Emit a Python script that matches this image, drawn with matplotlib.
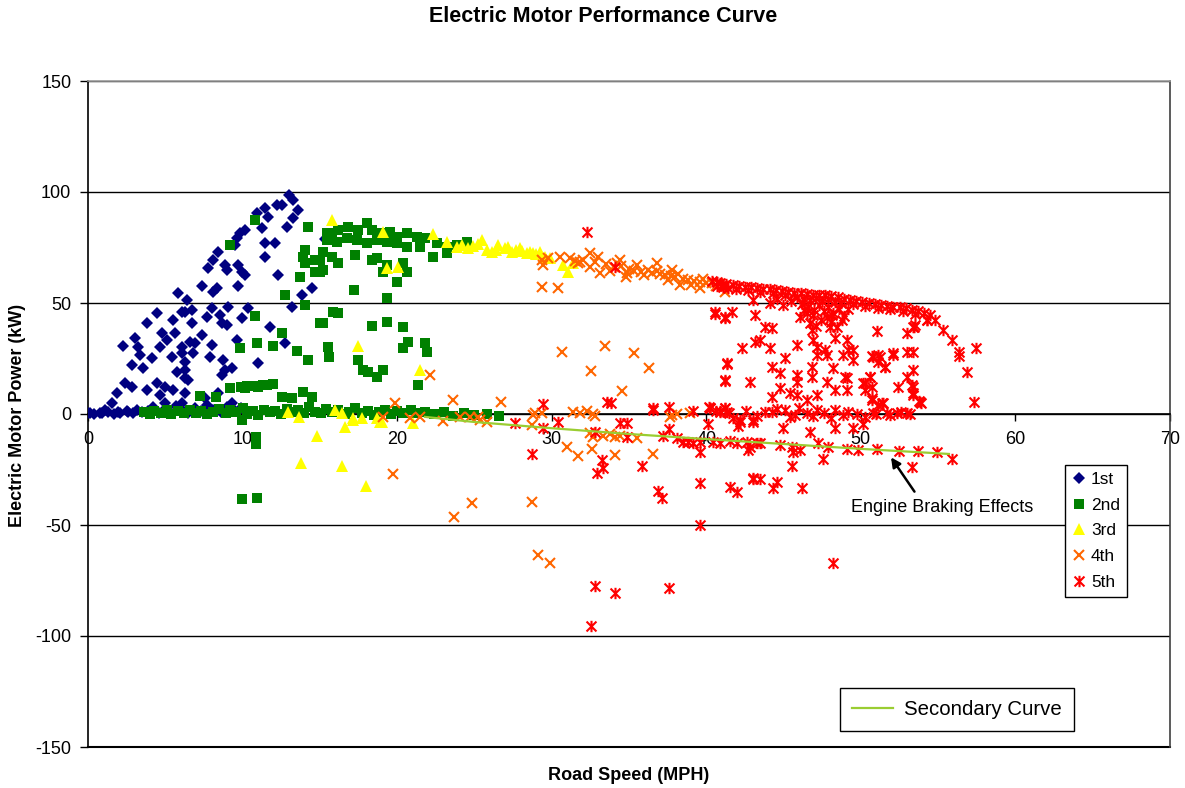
import matplotlib
matplotlib.use("Agg")
import matplotlib.pyplot as plt
from matplotlib.path import Path

plt.rcParams['font.family'] = ['Liberation Sans', 'DejaVu Sans']
plt.rcParams['axes.unicode_minus'] = False

# (road speed mph, motor power kW) samples, one list per gear
gear1 = [
    (13.0, 98.6), (13.28, 96.4), (12.21, 94.1), (12.53, 94.1), (11.45, 92.6), (13.6, 91.9),
    (13.28, 88.1), (11.63, 88.9), (10.91, 90.4), (12.86, 84.4), (11.24, 83.6), (10.16, 82.9),
    (9.83, 81.4), (9.62, 79.1), (11.45, 76.9), (12.1, 76.9), (9.51, 76.1), (8.43, 73.1),
    (8.11, 69.4), (7.78, 65.6), (8.86, 67.1), (9.73, 67.1), (8.97, 64.9), (9.94, 64.1),
    (10.16, 62.6), (12.31, 62.6), (11.45, 70.9), (15.33, 78.7), (7.36, 57.7), (8.33, 56.6),
    (8.11, 55.1), (9.73, 57.7), (14.47, 56.6), (13.83, 53.6), (13.18, 48.3), (5.84, 54.4),
    (6.39, 51.4), (6.06, 46.1), (6.27, 46.1), (6.71, 46.8), (8.0, 47.6), (9.08, 48.3),
    (10.37, 47.6), (7.68, 43.8), (8.54, 44.6), (8.65, 40.8), (8.97, 40.1), (9.94, 43.1),
    (11.77, 39.3), (4.44, 45.4), (5.52, 42.3), (3.8, 40.8), (6.71, 41.1), (4.77, 36.3),
    (5.63, 36.3), (7.36, 35.6), (3.04, 34.1), (2.29, 30.6), (3.25, 30.3), (4.66, 30.3),
    (5.09, 33.3), (6.06, 30.3), (6.6, 32.6), (6.92, 31.8), (8.0, 31.1), (9.62, 33.3),
    (12.74, 31.8), (3.36, 26.6), (4.12, 25.1), (5.42, 25.8), (6.06, 27.3), (6.27, 23.6),
    (6.81, 27.3), (7.89, 25.8), (8.75, 24.3), (2.83, 22.1), (3.58, 20.6), (5.74, 19.1),
    (6.27, 19.8), (6.27, 16.1), (6.49, 15.3), (8.86, 19.8), (9.3, 20.6), (8.65, 17.6),
    (11.02, 22.8), (2.39, 13.8), (2.83, 12.3), (1.86, 9.3), (3.8, 10.8), (4.44, 13.8),
    (4.98, 12.3), (5.52, 10.8), (6.27, 9.3), (8.43, 9.3), (7.57, 7.1), (1.53, 4.8),
    (1.1, 1.8), (0.13, 0.6), (0.78, 0.3), (1.96, 1.0), (2.61, 1.0), (4.66, 8.6),
    (4.98, 4.8), (6.06, 4.8), (9.3, 4.8),
    (0.0, 0.5), (0.4, 0.0), (0.9, 0.3), (1.3, 0.8), (1.7, 0.2), (2.1, 0.6), (2.5, 1.2),
    (2.9, 0.3), (3.2, 2.0), (3.5, 0.8), (3.9, 1.5), (4.2, 3.2), (4.6, 0.6), (5.0, 2.2),
    (5.3, 1.0), (5.7, 3.5), (6.1, 1.8), (6.5, 0.5), (6.9, 2.8), (7.3, 1.2), (7.7, 4.0),
    (8.1, 2.0), (8.6, 1.0), (9.0, 3.0), (9.5, 1.5), (9.9, 2.5),
]

gear2 = [
    (10.8, 87.4), (9.19, 76.1), (14.25, 84.4), (15.44, 81.4), (14.04, 73.9), (13.93, 70.9),
    (14.04, 67.9), (15.01, 69.4), (14.69, 64.1), (13.72, 61.8), (12.74, 53.6), (14.04, 49.1),
    (10.8, 44.1), (15.01, 40.8), (12.53, 36.3), (9.83, 29.6), (10.91, 31.8), (11.99, 30.6),
    (13.5, 28.5), (14.25, 24.3), (9.19, 11.6), (7.25, 8.1), (8.26, 7.8), (10.16, 11.6),
    (11.02, 12.0), (11.99, 13.5), (12.53, 7.8), (13.18, 7.1), (13.93, 10.1), (14.47, 7.8),
    (9.94, -2.7), (9.9, 12.2), (10.3, 12.5), (10.6, 12.6), (11.0, 12.8), (11.3, 13.0),
    (11.6, 13.2), (12.0, 13.5),
    (15.77, 81.4), (16.18, 82.9), (16.82, 84.4), (17.49, 82.9), (18.03, 85.9), (18.35, 82.9),
    (18.89, 81.4), (19.54, 82.1), (19.97, 79.9), (20.62, 81.4), (21.26, 79.9), (21.8, 79.1),
    (22.56, 76.9), (23.2, 75.4), (23.85, 76.1), (24.5, 77.6), (15.44, 78.4), (16.09, 77.6),
    (16.73, 79.1), (17.38, 78.4), (18.03, 76.9), (18.68, 78.4), (19.32, 77.6), (19.97, 76.9),
    (20.62, 75.4), (21.48, 75.4), (22.34, 70.9), (23.2, 72.4), (15.22, 73.1), (15.77, 70.9),
    (16.19, 67.9), (15.22, 64.9), (14.68, 69.4), (15.01, 64.1), (17.27, 71.6), (18.35, 69.4),
    (18.68, 70.1), (19.1, 63.8), (19.32, 67.1), (20.4, 67.9), (20.62, 64.1), (19.97, 59.3),
    (17.2, 55.9), (19.32, 52.1), (15.87, 46.1), (16.19, 45.4), (15.18, 40.8), (18.35, 39.6),
    (19.32, 41.6), (20.4, 39.3), (15.55, 30.3), (15.61, 25.8), (17.49, 24.3), (17.81, 19.8),
    (18.13, 19.1), (18.68, 16.8), (19.1, 19.8), (20.4, 29.6), (20.72, 32.6), (21.8, 31.8),
    (21.91, 28.1), (21.37, 13.1),
    (9.94, -38.4), (10.91, -38.0), (10.9, -10.5), (10.9, -13.5),
    (3.6, 0.8), (4.0, 0.2), (4.3, 1.5), (4.7, 0.5), (5.1, 1.8), (5.4, 0.0), (5.8, 1.2),
    (6.2, 0.4), (6.6, 2.0), (7.0, 0.6), (7.3, 1.4), (7.7, -0.2), (8.1, 1.0), (8.5, 2.2),
    (8.9, 0.3), (9.2, 1.6), (9.6, 0.8), (10.0, 2.5), (10.3, 0.2), (10.7, 1.3), (11.0, -0.5),
    (11.4, 2.0), (11.8, 0.7), (12.1, 1.5), (12.5, 0.0), (12.9, 2.4), (13.2, 0.9), (13.6, 1.7),
    (14.0, 0.3), (14.3, 3.0), (14.7, 1.1), (15.1, 0.4), (15.4, 2.2), (15.8, 0.8), (16.2, 1.6),
    (16.6, 0.1), (16.9, 1.0), (17.3, 2.5), (17.7, 0.5), (18.1, 1.4), (18.5, -0.3), (18.8, 0.9),
    (19.2, 1.9), (19.6, 0.2), (20.0, 1.2), (20.4, 0.6), (20.9, 1.8), (21.3, 0.3), (21.8, 1.0),
    (22.4, 0.0), (23.0, 0.8), (23.6, -0.8), (24.3, 0.5), (25.0, -0.5), (25.8, 0.2), (26.6, -1.0),
]

gear3 = [
    (15.77, 87.4), (19.1, 82.1), (22.3, 81.1), (23.2, 77.6), (23.85, 75.4), (24.18, 76.1),
    (24.6, 74.6), (25.47, 78.4), (25.79, 73.9), (19.32, 65.6), (20.08, 66.1), (17.49, 30.6),
    (21.48, 19.8), (12.96, 1.0), (13.67, -1.2), (15.98, 1.8), (16.41, 0.3), (16.62, -5.7),
    (17.16, -1.95), (17.7, -1.95), (18.68, -1.95), (18.9, -3.5), (14.8, -9.9), (13.78, -21.9),
    (16.41, -23.4), (17.99, -32.4), (17.17, -2.7), (19.0, -3.4), (21.0, -3.9),
    (26.12, 73.1), (26.55, 76.1), (26.98, 74.6), (27.41, 73.1), (27.95, 74.6), (28.38, 72.4),
    (28.81, 72.4), (29.24, 73.1), (29.56, 70.9), (29.88, 70.1), (30.75, 67.1), (31.07, 64.1),
    (31.4, 67.9), (24.9, 75.5), (25.2, 76.8), (26.4, 74.0), (27.2, 75.2), (27.7, 73.8),
    (28.1, 73.5), (28.6, 73.0), (29.0, 72.0),
]

gear4 = [
    (29.35, 69.4), (29.46, 67.1), (29.78, 70.1), (30.54, 70.9), (31.18, 70.1), (31.72, 67.9),
    (31.83, 68.6), (32.48, 72.4), (32.8, 68.6), (33.12, 63.4), (34.42, 69.4), (34.85, 63.4),
    (36.79, 67.9), (37.76, 64.9), (38.3, 58.1), (39.59, 56.6), (41.21, 55.1), (29.35, 57.3),
    (30.43, 56.6), (33.5, 67.5), (34.0, 66.0), (34.5, 66.5), (35.0, 65.5), (35.3, 64.5),
    (35.8, 64.0), (36.2, 65.0), (36.5, 63.5), (37.0, 63.0), (37.3, 62.5), (37.7, 62.0),
    (38.0, 61.5), (38.5, 61.0), (38.8, 60.5), (39.2, 60.0), (39.6, 59.5), (40.0, 59.0),
    (40.4, 58.8), (40.8, 58.5), (33.8, 64.5), (34.2, 68.0), (35.5, 67.0), (36.0, 62.5),
    (36.8, 64.5), (37.5, 60.5), (38.2, 63.0), (39.0, 58.0), (39.8, 61.0), (40.6, 57.5),
    (32.0, 69.5), (32.5, 66.0), (33.0, 70.5), (31.5, 69.0), (34.8, 61.5),
    (30.65, 27.8), (32.54, 19.5), (33.45, 30.8), (35.32, 27.6), (36.31, 20.9), (34.53, 10.5),
    (26.72, 5.3), (28.92, 0.3), (29.35, 0.6), (31.4, 1.1), (31.83, 0.6), (32.26, 1.4),
    (32.7, -0.1), (37.65, -1.5), (38.08, 0.0), (38.95, 0.3), (22.13, 17.6), (23.64, 6.3),
    (19.86, 5.1), (19.75, -27.0), (24.82, -40.2), (23.68, -46.3), (19.1, -1.2), (20.83, -1.95),
    (21.48, -1.2), (22.99, -3.0), (24.07, -1.2), (24.71, -1.2), (25.25, -1.5), (25.79, -3.5),
    (28.81, -0.45), (25.36, -2.7), (32.8, -0.9), (28.7, -5.0), (30.97, -14.7), (31.72, -18.9),
    (32.59, -15.9), (32.7, -10.2), (33.34, -9.9), (34.09, -10.2), (34.42, -9.9), (35.5, -11.0),
    (34.09, -18.5), (36.57, -18.0), (37.76, -0.45), (28.7, -39.5), (29.13, -63.5),
    (29.89, -67.3), (32.5, -8.5), (33.8, -9.0),
]

gear5 = [
    (32.3, 82.1), (34.09, 66.4), (40.67, 59.6), (41.0, 58.1), (41.43, 56.6), (40.56, 45.0),
    (41.21, 43.1), (41.32, 22.5), (41.21, 15.0), (29.41, 4.5), (33.56, 5.6), (33.81, 5.1),
    (36.57, 1.8), (37.61, 3.0), (39.15, 1.2), (40.19, 3.0), (40.88, 1.2),
    (27.62, -3.9), (29.46, -6.5), (30.43, -3.5), (28.7, -18.0), (32.8, -8.0), (33.23, -20.7),
    (33.34, -24.5), (32.91, -26.7), (34.42, -3.9), (34.85, -4.2), (34.85, -10.2),
    (35.82, -23.4), (36.57, 2.6), (37.22, -9.9), (37.61, -6.9), (38.08, -11.0), (38.84, -12.5),
    (39.15, -13.2), (38.52, -12.5), (39.59, -17.0), (40.13, -4.5), (40.23, 2.6), (40.89, 1.0),
    (41.32, 1.0), (41.2, 2.5), (41.75, -1.95), (42.18, -3.5), (42.07, -5.6), (43.04, -3.5),
    (39.59, -12.5), (40.45, -12.5), (40.89, -13.2), (41.53, -12.0), (41.97, -13.2),
    (42.61, -12.5), (42.72, -16.2), (43.26, -13.2), (36.9, -34.5), (37.11, -38.0),
    (39.59, -31.2), (39.59, -50.0), (41.53, -33.0), (41.97, -35.0), (43.04, -29.4),
    (32.8, -77.5), (34.09, -80.5), (37.61, -78.5), (32.54, -95.5),
    (43.48, -13.2), (44.77, -14.0), (45.53, -14.7), (45.64, -17.0), (46.06, -16.2),
    (47.25, -13.2), (47.9, -14.7), (49.08, -15.9), (49.84, -16.2), (51.02, -15.9),
    (52.49, -16.5), (53.72, -16.5), (54.91, -17.0), (55.88, -20.4), (53.29, -23.7),
    (47.57, -20.4), (45.53, -23.4), (43.04, -29.0), (43.48, -29.4), (44.56, -30.5),
    (44.34, -33.5), (46.17, -33.5), (48.22, -67.0), (42.83, -14.7),
    (40.56, 46.1), (41.21, 43.8), (41.64, 46.1), (43.15, 44.6), (43.8, 39.3), (44.23, 38.6),
    (45.85, 31.1), (44.12, 29.6), (42.29, 29.6), (43.15, 32.6), (43.48, 33.3), (45.09, 25.1),
    (41.32, 22.8), (44.23, 21.3), (44.77, 18.3), (45.85, 17.6), (45.85, 14.5), (46.82, 21.3),
    (46.82, 16.8), (47.14, 26.6), (47.79, 26.6), (48.22, 20.6), (48.87, 26.6), (49.08, 16.1),
    (49.51, 28.8), (49.51, 24.3), (50.81, 25.8), (51.24, 25.8), (51.56, 21.3), (51.02, 37.5),
    (52.1, 26.6), (52.96, 28.1), (52.96, 36.3), (53.39, 39.3), (53.39, 19.8), (52.96, 16.8),
    (52.42, 12.3), (53.39, 12.3), (53.39, 8.6), (53.83, 5.5), (41.21, 15.3), (42.83, 14.5),
    (44.77, 11.6), (45.42, 9.3), (44.23, 7.8), (45.85, 8.6), (46.5, 6.3), (47.14, 8.6),
    (47.79, 14.5), (48.33, 10.8), (48.97, 16.8), (49.08, 10.8), (50.16, 13.8), (50.59, 16.8),
    (50.7, 6.3), (51.35, 4.8), (40.24, 2.6), (41.21, 2.6), (42.18, -2.7), (43.04, -2.7),
    (44.23, 1.0), (45.09, 1.8), (45.74, -0.45), (46.5, 0.3), (47.14, 1.8), (48.33, 1.8),
    (48.87, -0.45), (49.73, 0.0), (50.81, 0.3), (51.67, 0.3), (52.32, 0.3), (52.96, 0.3),
    (44.98, -6.4), (46.71, -8.0), (48.33, -6.4), (49.51, -6.4), (50.16, -4.5),
    (46.82, 37.8), (46.92, 33.3), (48.33, 34.1), (49.08, 33.3), (49.19, 28.8), (47.14, 30.3),
    (47.68, 28.8), (48.0, 39.3), (48.76, 42.3), (48.44, 39.3), (46.06, 43.8), (46.5, 45.4),
    (47.79, 43.8), (48.11, 44.6), (44.98, 49.1), (44.12, 49.9), (43.04, 51.4),
    (53.44, 39.3), (55.34, 37.8), (55.88, 33.3), (56.37, 28.1), (56.37, 26.1), (57.45, 29.6),
    (56.85, 19.1), (57.34, 5.5), (53.78, 5.9), (53.87, 4.8), (53.29, 13.2), (53.4, 9.5),
    (52.1, 27.3), (53.39, 28.1), (50.7, 26.1), (51.13, 26.6), (51.13, 23.6), (51.56, 21.0),
    (50.59, 16.8), (50.27, 13.8), (50.7, 12.3), (50.27, 10.8), (50.7, 7.1), (51.13, 4.1),
    (51.45, 5.1),
    (40.6, 1.5), (41.5, 0.5), (42.6, 1.2), (43.3, -1.0), (43.8, 0.8), (44.6, 2.2), (45.4, -1.5),
    (46.0, 2.5), (46.9, -1.0), (47.6, 0.5), (48.1, -2.0), (49.2, 1.0), (50.3, -1.2),
    (51.0, 0.0), (51.9, -0.5), (52.6, 0.8), (53.2, 0.0),
    (40.4, 59.8), (40.9, 59.0), (41.3, 58.6), (41.7, 58.2), (42.1, 57.8), (42.5, 57.4),
    (42.9, 57.0), (43.3, 56.8), (43.7, 56.5), (44.1, 56.2), (44.5, 55.8), (44.9, 55.4),
    (45.3, 55.0), (45.7, 54.6), (46.1, 54.3), (46.5, 54.0), (46.9, 53.8), (47.3, 53.6),
    (47.7, 53.4), (48.1, 53.2), (48.5, 52.6), (48.9, 52.0), (49.3, 51.4), (49.7, 50.8),
    (50.1, 50.4), (50.5, 50.0), (50.9, 49.6), (51.3, 49.2), (51.7, 48.8), (52.1, 48.4),
    (52.5, 48.0), (52.9, 47.6), (53.3, 47.0), (53.7, 46.2), (54.1, 45.4), (54.5, 44.6),
    (54.8, 42.5), (54.26, 42.3), (53.5, 40.0),
    (40.7, 57.5), (41.1, 57.0), (41.9, 56.3), (42.7, 55.8), (43.5, 55.0), (44.3, 54.5),
    (45.1, 53.6), (45.9, 52.8), (46.3, 52.0), (46.7, 51.5), (47.1, 52.4), (47.5, 51.0),
    (47.9, 51.8), (48.3, 50.6), (48.7, 50.2), (49.5, 49.6), (50.3, 48.6), (51.1, 47.8),
    (51.9, 47.2), (52.7, 46.4), (53.5, 45.2), (54.3, 42.3),
    (46.2, 49.5), (46.6, 48.2), (47.0, 47.0), (47.3, 49.0), (47.6, 46.5), (47.9, 48.0),
    (48.2, 45.5), (48.6, 47.2), (46.9, 44.8), (47.4, 42.5), (46.7, 40.8), (47.1, 39.5),
    (48.1, 41.5), (48.9, 44.0), (46.3, 47.0), (45.5, 50.8), (44.6, 52.0), (49.2, 47.5),
]

# fitted engine-braking trend
curve_x = [21.8, 25.0, 30.0, 35.0, 40.0, 45.0, 50.0, 55.7]
curve_y = [-1.3, -3.6, -6.4, -9.0, -11.3, -13.5, -15.7, -18.0]

gear_labels = ['1st', '2nd', '3rd', '4th', '5th']

# Excel-style star: an x with a vertical stroke through it
star = Path([(-1, -1), (1, 1), (-1, 1), (1, -1), (0, -1.15), (0, 1.15)],
            [Path.MOVETO, Path.LINETO] * 3)

styles = [
    dict(marker='D', ms=5.9, mfc='#000080', mec='#000080', mew=0),
    dict(marker='s', ms=7.2, mfc='#008000', mec='#008000', mew=0),
    dict(marker='^', ms=8.0, mfc='#FFFF00', mec='#FFFF00', mew=0),
    dict(marker='x', ms=7.2, mfc='none', mec='#FF6600', mew=1.5),
    dict(marker=star, ms=8.2, mfc='none', mec='#FF0000', mew=1.5),
]

fig = plt.figure(figsize=(11.85, 7.88), dpi=100)
ax = fig.add_axes([88 / 1185, 41 / 788, 1082 / 1185, 666 / 788])

handles = []
for data, label, st in zip([gear1, gear2, gear3, gear4, gear5], gear_labels, styles):
    xs = [p[0] for p in data]
    ys = [p[1] for p in data]
    h, = ax.plot(xs, ys, ls='none', label=label, zorder=3, **st)
    handles.append(h)

curve, = ax.plot(curve_x, curve_y, color='#9ACD32', lw=1.6, zorder=4,
                 label='Secondary Curve')

ax.set_xlim(0, 70)
ax.set_ylim(-150, 150)
ax.set_xticks(range(0, 71, 10))
ax.set_yticks(range(-150, 151, 50))

ax.set_axisbelow(True)
ax.yaxis.grid(True, color='black', lw=1)
ax.axhline(-150, color='black', lw=1.5, clip_on=False, zorder=2)
ax.spines['bottom'].set_position(('data', 0))
ax.spines['bottom'].set_color('black')
ax.spines['left'].set_color('black')
ax.spines['top'].set_color('#9a9a9a')
ax.spines['right'].set_color('#404040')
for s in ax.spines.values():
    s.set_linewidth(1.2)
ax.tick_params(axis='x', direction='out', length=5, width=1, pad=7.5, labelsize=13)
ax.tick_params(axis='y', direction='out', length=6, width=1, pad=6, labelsize=13)

leg1 = ax.legend(handles=handles, loc='upper left', bbox_to_anchor=(0.903, 0.4234),
                 borderaxespad=0, fontsize=12.4, frameon=True, fancybox=False,
                 edgecolor='black', framealpha=1, handlelength=0.8, handletextpad=0.3,
                 borderpad=0.4, labelspacing=0.62, numpoints=1)
leg1.get_frame().set_linewidth(1)
ax.add_artist(leg1)

leg2 = ax.legend(handles=[curve], loc='upper left', bbox_to_anchor=(0.695, 0.0886),
                 borderaxespad=0, fontsize=14.7, frameon=True, fancybox=False,
                 edgecolor='black', framealpha=1, handlelength=2.0, handletextpad=0.55,
                 borderpad=0.6)
leg2.get_frame().set_linewidth(1)

ax.annotate('', xy=(51.85, -18.5), xytext=(53.57, -36.0),
            arrowprops=dict(arrowstyle='-|>', color='black', lw=1.8, mutation_scale=14),
            zorder=5)
ax.text(49.36, -41.9, 'Engine Braking Effects', fontsize=13, ha='left', va='center')

fig.text(603 / 1185, 1 - 17 / 788, 'Electric Motor Performance Curve',
         fontsize=15.5, fontweight='bold', ha='center', va='center')
fig.text(629 / 1185, 1 - 776 / 788, 'Road Speed (MPH)',
         fontsize=13, fontweight='bold', ha='center', va='center')
fig.text(18 / 1185, 1 - 415 / 788, 'Electric Motor Power (kW)',
         fontsize=13, fontweight='bold', ha='center', va='center', rotation=90)

fig.savefig('out.png', dpi=100)
